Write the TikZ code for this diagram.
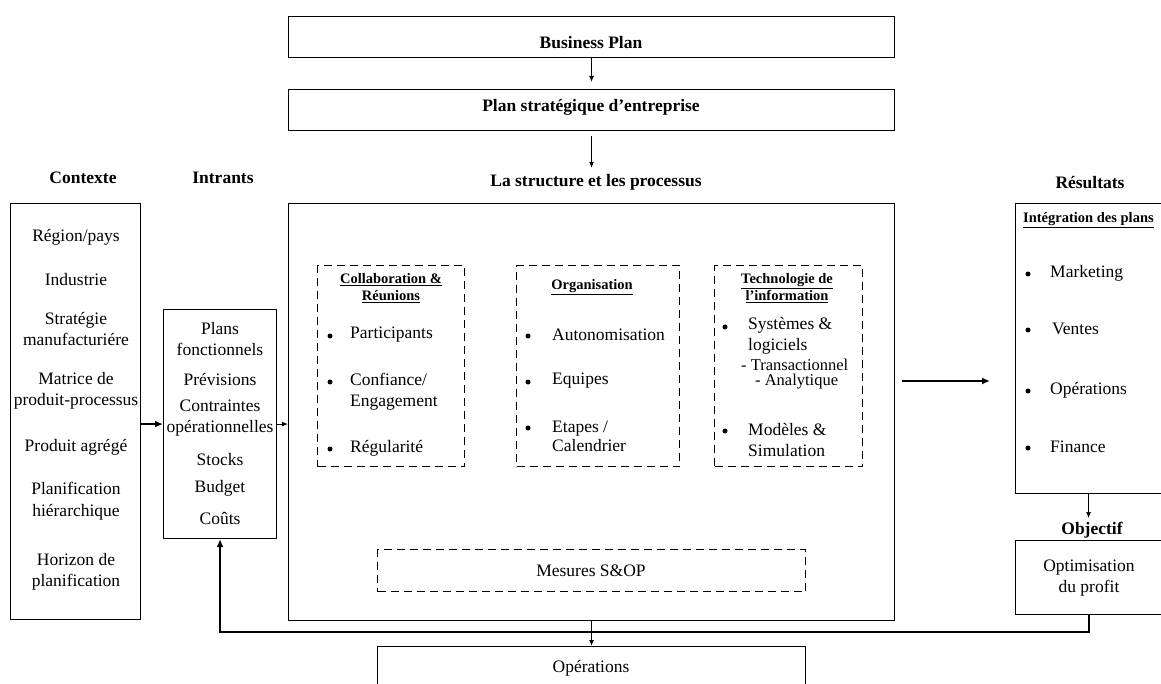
\documentclass[tikz,border=0pt]{standalone}
\usepackage{fontspec}
\setmainfont{Liberation Serif}
\usetikzlibrary{arrows.meta,calc}
\begin{document}
\begin{tikzpicture}[x=1pt,y=-1pt,
  box/.style={draw, line width=1.1pt, inner sep=0pt, anchor=north west},
  dbox/.style={draw, line width=1.1pt, dash pattern=on 8pt off 5pt, inner sep=0pt, anchor=north west},
  txt/.style={font=\fontsize{17.5}{21.5}\selectfont, align=center, inner sep=0pt},
  ltxt/.style={font=\fontsize{17.5}{21}\selectfont, align=left, inner sep=0pt, anchor=west},
  hd/.style={font=\bfseries\fontsize{17.5}{21}\selectfont, inner sep=0pt},
  sub/.style={font=\bfseries\fontsize{14.5}{17}\selectfont, align=center, inner sep=0pt},
  bul/.style={circle, fill=black, inner sep=0pt, minimum size=5pt},
  arr/.style={-{Latex[length=6pt,width=5pt]}, line width=1.1pt},
  tarr/.style={-{Latex[length=8pt,width=7pt]}, line width=2pt}
]
\clip (0,0) rectangle (1161,684);
% boxes
\node[box, minimum width=606pt, minimum height=41pt] (bp) at (288,16) {};
\node[hd] (bpt) at (591,43) {Business Plan};
\node[box, minimum width=606pt, minimum height=41pt] (ps) at (288,89) {};
\node[hd] (pst) at (591,107) {Plan stratégique d’entreprise};
\node[hd] (stt) at (596,182) {La structure et les processus};

\node[box, minimum width=130pt, minimum height=416pt] (ctx) at (10,203) {};
\node[box, minimum width=113pt, minimum height=229pt] (intr) at (163,309) {};
\node[box, minimum width=606pt, minimum height=417pt] (main) at (288,203) {};
\node[box, minimum width=160pt, minimum height=290pt] (res) at (1015,203) {};
\node[box, minimum width=160pt, minimum height=74pt] (obj) at (1015,540) {};
\node[box, minimum width=428pt, minimum height=60pt] (ops) at (377,646) {};
\node[dbox, minimum width=147pt, minimum height=201pt] (collab) at (317,265) {};
\node[dbox, minimum width=163pt, minimum height=201pt] (orga) at (516,265) {};
\node[dbox, minimum width=148pt, minimum height=201pt] (tech) at (714,265) {};
\node[dbox, minimum width=428pt, minimum height=42pt] (mes) at (377,549) {};

% headers
\node[hd] (hctx) at (83,178) {Contexte};
\node[hd] (hint) at (223,178) {Intrants};
\node[hd] (hres) at (1090,183) {Résultats};
\node[hd] (hobj) at (1092,530) {Objectif};

% contexte items
\node[txt] (c1) at (76,237) {Région/pays};
\node[txt] (c2) at (76,280) {Industrie};
\node[txt] (c3) at (76,329) {Stratégie\\manufacturiére};
\node[txt] (c4) at (76,391) {Matrice de\\produit-processus};
\node[txt] (c5) at (76,447) {Produit agrégé};
\node[txt] (c6) at (76,501) {Planification\\hiérarchique};
\node[txt] (c7) at (76,572) {Horizon de\\planification};

% intrants items
\node[txt] (i1) at (220,339) {Plans\\fonctionnels};
\node[txt] (i2) at (220,380) {Prévisions};
\node[txt] (i3) at (220,418) {Contraintes\\opérationnelles};
\node[txt] (i4) at (220,460) {Stocks};
\node[txt] (i5) at (220,488) {Budget};
\node[txt] (i6) at (220,518) {Coûts};

% collaboration
\node[sub] (hcol) at (391,288) {\underline{Collaboration \&}\\\underline{Réunions}};
\node[bul] (cb1) at (330,336) {};
\node[ltxt] (ct1) at (350,335) {Participants};
\node[bul] (cb2) at (330,382) {};
\node[ltxt] (ct2) at (350,391.5) {Confiance/\\Engagement};
\node[bul] (cb3) at (330,449) {};
\node[ltxt] (ct3) at (350,448) {Régularité};

% organisation
\node[sub] (horg) at (592,287) {\underline{Organisation}};
\node[bul] (ob1) at (528,336) {};
\node[ltxt] (ot1) at (552,335) {Autonomisation};
\node[bul] (ob2) at (528,382) {};
\node[ltxt] (ot2) at (552,381) {Equipes};
\node[bul] (ob3) at (528,428) {};
\node[ltxt, font=\fontsize{17.5}{19}\selectfont] (ot3) at (552,436.5) {Etapes /\\Calendrier};

% technologie
\node[sub] (htec) at (787,288) {\underline{Technologie de}\\\underline{l’information}};
\node[bul] (tb1) at (725,327) {};
\node[ltxt] (tt1) at (748,335.5) {Systèmes \&\\logiciels};
\node[txt, anchor=west, font=\fontsize{16.5}{18}\selectfont] (tt2) at (741,365) {- Transactionnel};
\node[txt, anchor=west, font=\fontsize{16.5}{18}\selectfont] (tt3) at (755,382) {- Analytique};
\node[bul] (tb2) at (725,431) {};
\node[ltxt] (tt4) at (748,440) {Modèles \&\\Simulation};

\node[txt] (mest) at (591,571) {Mesures S\&OP};
\node[txt] (opst) at (591,668) {Opérations};

% resultats
\node[sub, anchor=west] (hint2) at (1023,220) {\underline{Intégration des plans}};
\node[bul] (rb1) at (1028,274) {};
\node[ltxt] (rt1) at (1050,273) {Marketing};
\node[bul] (rb2) at (1028,330) {};
\node[ltxt] (rt2) at (1052,329) {Ventes};
\node[bul] (rb3) at (1028,391) {};
\node[ltxt] (rt3) at (1050,390) {Opérations};
\node[bul] (rb4) at (1028,448) {};
\node[ltxt] (rt4) at (1050,447) {Finance};

\node[txt] (objt) at (1089,578) {Optimisation\\du profit};

% connectors
\draw[arr] (bp.south) -- ([yshift=7pt]ps.north);
\draw[arr] ([yshift=-5pt]ps.south) -- ([yshift=6pt]stt.north -| ps.south);
\draw[tarr] (intr.west -| ctx.east) -- (intr.west);
\draw[arr] (intr.east) -- (intr.east -| main.west);
\coordinate (m1) at (902,381);
\coordinate (m2) at (990,381);
\draw[tarr] (m1) -- (m2);
\draw[arr] ([xshift=-7pt]res.south) -- ([xshift=-7pt,yshift=-24pt]res.south);
\draw[tarr] ([xshift=-7pt]obj.south) -- ++(0,17) -| (intr.south);
\draw[arr] (main.south) -- (ops.north);
\end{tikzpicture}
\end{document}
